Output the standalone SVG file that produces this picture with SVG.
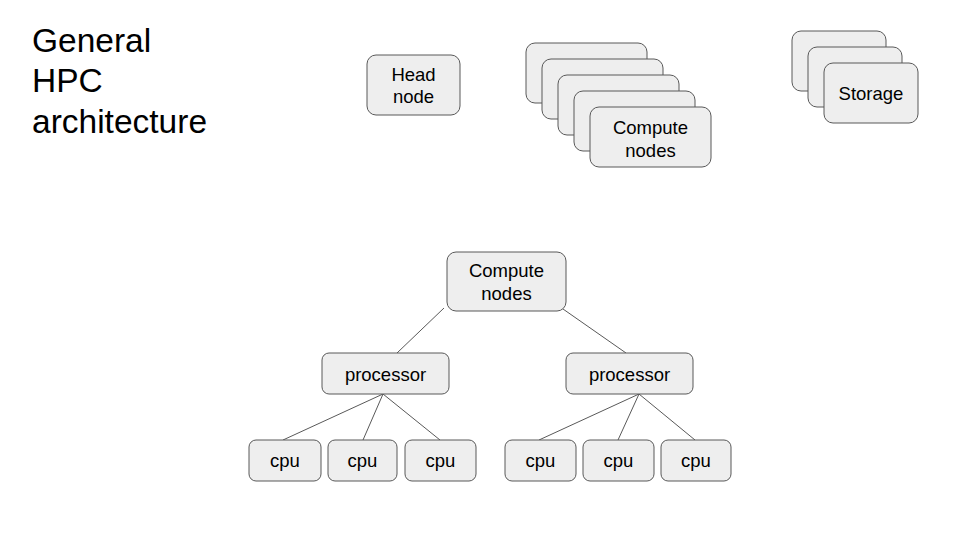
<svg xmlns="http://www.w3.org/2000/svg" width="960" height="540" viewBox="0 0 960 540">
<style>
.n{fill:#eeeeee;stroke:#595959;stroke-width:1}
.t{font-family:"Liberation Sans",Arial,sans-serif;font-size:18.5px;fill:#000;text-anchor:middle}
.ti{font-family:"Liberation Sans",Arial,sans-serif;font-size:33.5px;fill:#000}
.c{stroke:#595959;stroke-width:1;fill:none}
</style>
<rect width="960" height="540" fill="#fff"/>
<g id="title"><text class="ti" x="32" y="52">General</text><text class="ti" x="32" y="92">HPC</text><text class="ti" x="32" y="133">architecture</text></g>
<g id="head-node"><rect class="n" x="367" y="55" width="93" height="60" rx="9"/><text class="t" x="413.5" y="81">Head</text><text class="t" x="413.5" y="103">node</text></g>
<g id="compute-stack">
<rect class="n" x="526" y="43" width="121" height="60" rx="9"/>
<rect class="n" x="542" y="59" width="121" height="60" rx="9"/>
<rect class="n" x="558" y="75" width="121" height="60" rx="9"/>
<rect class="n" x="574" y="91" width="121" height="60" rx="9"/>
<rect class="n" x="590" y="107" width="121" height="60" rx="9"/>
<text class="t" x="650.5" y="134">Compute</text><text class="t" x="650.5" y="157">nodes</text></g>
<g id="storage">
<rect class="n" x="792" y="31" width="94" height="60" rx="9"/>
<rect class="n" x="808" y="47" width="94" height="60" rx="9"/>
<rect class="n" x="824" y="63" width="94" height="60" rx="9"/>
<text class="t" x="871" y="100">Storage</text></g>
<g id="connectors">
<line class="c" x1="444" y1="308" x2="397" y2="353"/>
<line class="c" x1="563" y1="309" x2="626" y2="353"/>
<line class="c" x1="383" y1="394" x2="283" y2="440"/>
<line class="c" x1="383" y1="394" x2="363" y2="440"/>
<line class="c" x1="383" y1="394" x2="440" y2="440"/>
<line class="c" x1="639" y1="394" x2="539" y2="440"/>
<line class="c" x1="639" y1="394" x2="618" y2="440"/>
<line class="c" x1="639" y1="394" x2="695" y2="440"/>
</g>
<g id="compute-nodes"><rect class="n" x="447" y="252" width="119" height="59" rx="9"/><text class="t" x="506.5" y="277">Compute</text><text class="t" x="506.5" y="300">nodes</text></g>
<g id="processor-1"><rect class="n" x="322" y="353" width="127" height="41" rx="7"/><text class="t" x="385.5" y="381">processor</text></g>
<g id="processor-2"><rect class="n" x="566" y="353" width="127" height="41" rx="7"/><text class="t" x="629.5" y="381">processor</text></g>
<g id="cpu-1"><rect class="n" x="249" y="440" width="72" height="41" rx="7"/><text class="t" x="285" y="467">cpu</text></g>
<g id="cpu-2"><rect class="n" x="328" y="440" width="69" height="41" rx="7"/><text class="t" x="362.5" y="467">cpu</text></g>
<g id="cpu-3"><rect class="n" x="405" y="440" width="71" height="41" rx="7"/><text class="t" x="440.5" y="467">cpu</text></g>
<g id="cpu-4"><rect class="n" x="505" y="440" width="71" height="41" rx="7"/><text class="t" x="540.5" y="467">cpu</text></g>
<g id="cpu-5"><rect class="n" x="583" y="440" width="71" height="41" rx="7"/><text class="t" x="618.5" y="467">cpu</text></g>
<g id="cpu-6"><rect class="n" x="661" y="440" width="70" height="41" rx="7"/><text class="t" x="696" y="467">cpu</text></g>
</svg>
